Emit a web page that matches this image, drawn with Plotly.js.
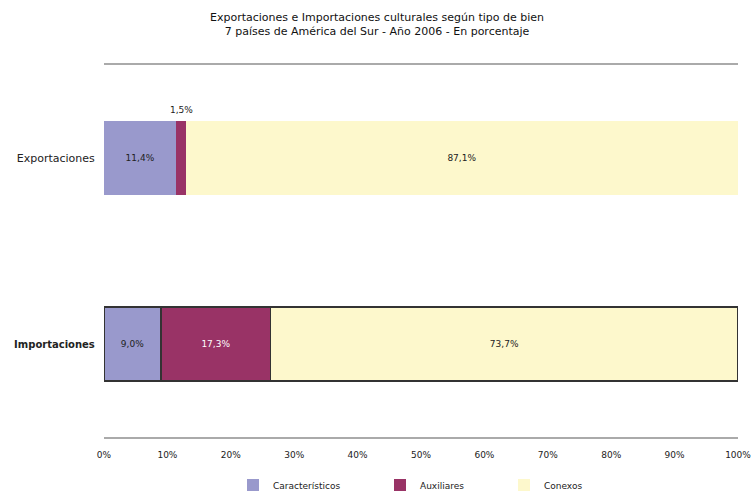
<!DOCTYPE html>
<html><head><meta charset="utf-8">
<script src="https://cdn.plot.ly/plotly-3.0.1.min.js"></script>
<style>html,body{margin:0;padding:0;background:#fff}#c{width:754px;height:494px}</style>
</head><body><div id="c"></div>
<script>
const categories = ["Exportaciones", "Importaciones"];
const categoryLabels = ["Exportaciones", "<b><span style=\"font-size:10px\">Importaciones</span></b>"];
const seriesNames = ["Característicos", "Auxiliares", "Conexos"];
const caracteristicos = [11.4, 9.0];
const auxiliares = [1.5, 17.3];
const conexos = [87.1, 73.7];
const tickVals = [0,10,20,30,40,50,60,70,80,90,100];
const tickText = ["0%","10%","20%","30%","40%","50%","60%","70%","80%","90%","100%"];

const fmt = v => v.toFixed(1).replace('.', ',') + '%';
const font = "DejaVu Sans, Liberation Sans, Arial, sans-serif";
const colors = ["#9999cc", "#993366", "#fdf8cc"];
const seriesVals = [caracteristicos, auxiliares, conexos];
const legendWidths = [102, 79, 60];
const textColors = [["#222","#222"], ["#fff","#fff"], ["#222","#222"]];

const traces = seriesVals.map((vals, i) => ({
  type: 'bar', orientation: 'h', name: seriesNames[i],
  y: categories, x: vals,
  text: vals.map((v, j) => (i === 1 && j === 0) ? '' : fmt(v)),
  textposition: 'inside', insidetextanchor: 'middle',
  textfont: {family: font, size: 9, color: textColors[i]},
  marker: {color: colors[i], line: {color: ["rgba(0,0,0,0)", "#333"], width: [0, 1.5]}},
  legendwidth: legendWidths[i],
  hoverinfo: 'x+name'
}));

const annotations = [{
  x: caracteristicos[0] + auxiliares[0] / 2, y: categories[0],
  xref: 'x', yref: 'y', text: fmt(auxiliares[0]), showarrow: false,
  yshift: 48, font: {family: font, size: 9, color: '#222'}
}];

const layout = {
  width: 754, height: 494,
  margin: {l: 104, r: 16, t: 65, b: 57},
  barmode: 'stack', bargap: 0.6,
  paper_bgcolor: '#fff', plot_bgcolor: '#fff',
  title: {text: 'Exportaciones e Importaciones culturales según tipo de bien<br>7 países de América del Sur - Año 2006 - En porcentaje',
          font: {family: font, size: 11, color: '#111'}, x: 0.5, xanchor: 'center', y: 0.958, yanchor: 'top'},
  xaxis: {range: [0, 100], tickvals: tickVals, ticktext: tickText, showgrid: false, zeroline: false,
          showline: true, mirror: true, linecolor: '#aaaaaa', linewidth: 2,
          ticks: 'outside', ticklen: 8, tickcolor: 'rgba(0,0,0,0)',
          tickfont: {family: font, size: 9, color: '#222'}, fixedrange: true},
  yaxis: {autorange: 'reversed', showline: false, showgrid: false, zeroline: false,
          tickvals: categories, ticktext: categoryLabels,
          ticks: 'outside', ticklen: 6, tickcolor: 'rgba(0,0,0,0)',
          tickfont: {family: font, size: 11, color: '#222'}},
  legend: {orientation: 'h', xref: 'container', yref: 'container', x: 233/754, xanchor: 'left',
           y: 1 - 485/494, yanchor: 'middle',
           font: {family: font, size: 9, color: '#222'}, traceorder: 'normal', itemwidth: 30},
  annotations: annotations,
  showlegend: true
};

Plotly.newPlot('c', traces, layout, {displayModeBar: false, staticPlot: true});
</script></body></html>
